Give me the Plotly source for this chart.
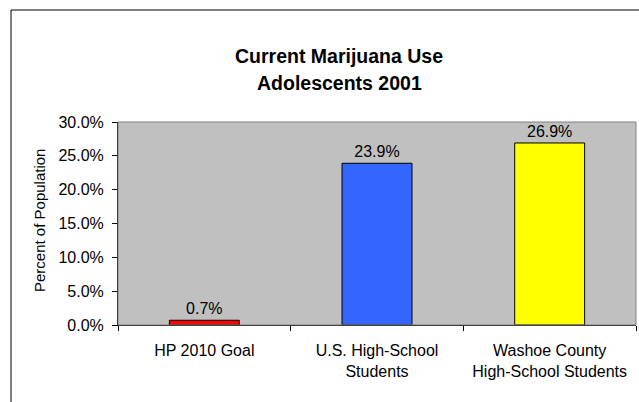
import plotly.graph_objects as go

categories = ["HP 2010 Goal", "U.S. High-School<br>Students", "Washoe County<br>High-School Students"]
values = [0.7, 23.9, 26.9]
colors = ["#FF0000", "#3366FF", "#FFFF00"]
title_lines = ["Current Marijuana Use", "Adolescents 2001"]
y_title = "Percent of Population"

W, H = 639, 402
L, R, T, B = 118, 3, 122, 77
pw, ph = W - L - R, H - T - B

def px_x(x):
    return (x - L) / pw

def px_y(y):
    return 1 - (y - T) / ph

font = "Arial, Liberation Sans, sans-serif"

fig = go.Figure(go.Bar(
    x=categories, y=values,
    marker=dict(color=colors, line=dict(color="#000000", width=1)),
    width=0.405,
    texttemplate="%{y:.1f}%", textposition="outside",
    textfont=dict(family=font, size=16, color="#000000"),
    cliponaxis=False,
))

fig.update_layout(
    width=W, height=H,
    margin=dict(l=L, r=R, t=T, b=B),
    paper_bgcolor="#FFFFFF", plot_bgcolor="#C0C0C0",
    showlegend=False,
    font=dict(family=font, size=16, color="#000000"),
    annotations=[
        dict(text="<b>" + title_lines[0] + "</b>", xref="paper", yref="paper",
             x=px_x(339), y=px_y(55.5), xanchor="center", yanchor="middle", showarrow=False,
             font=dict(family=font, size=19.5, color="#000000")),
        dict(text="<b>" + title_lines[1] + "</b>", xref="paper", yref="paper",
             x=px_x(339), y=px_y(83), xanchor="center", yanchor="middle", showarrow=False,
             font=dict(family=font, size=19.5, color="#000000")),
        dict(text=y_title, xref="paper", yref="paper", textangle=-90,
             x=px_x(39), y=px_y(221), xanchor="center", yanchor="middle", showarrow=False,
             font=dict(family=font, size=15, color="#000000")),
    ],
    shapes=[
        dict(type="rect", xref="paper", yref="paper", x0=0, x1=1, y0=0, y1=1,
             line=dict(color="#808080", width=1), layer="above"),
        dict(type="rect", xref="paper", yref="paper", x0=px_x(11), x1=px_x(700),
             y0=px_y(500), y1=px_y(10), line=dict(color="#000000", width=1)),
    ],
)

fig.update_xaxes(
    showline=True, linecolor="#000000", linewidth=1,
    ticks="outside", tickson="boundaries", ticklen=5, tickcolor="#000000",
    showgrid=False, tickfont=dict(family=font, size=16),
    ticklabelstandoff=11,
)
fig.update_yaxes(
    range=[0, 30], dtick=5, ticksuffix="%", tickformat=".1f",
    showline=True, linecolor="#000000", linewidth=1,
    ticks="outside", ticklen=5, tickcolor="#000000",
    showgrid=False, zeroline=False,
    tickfont=dict(family=font, size=16),
    ticklabelstandoff=5,
)

fig.write_html("out.html")
